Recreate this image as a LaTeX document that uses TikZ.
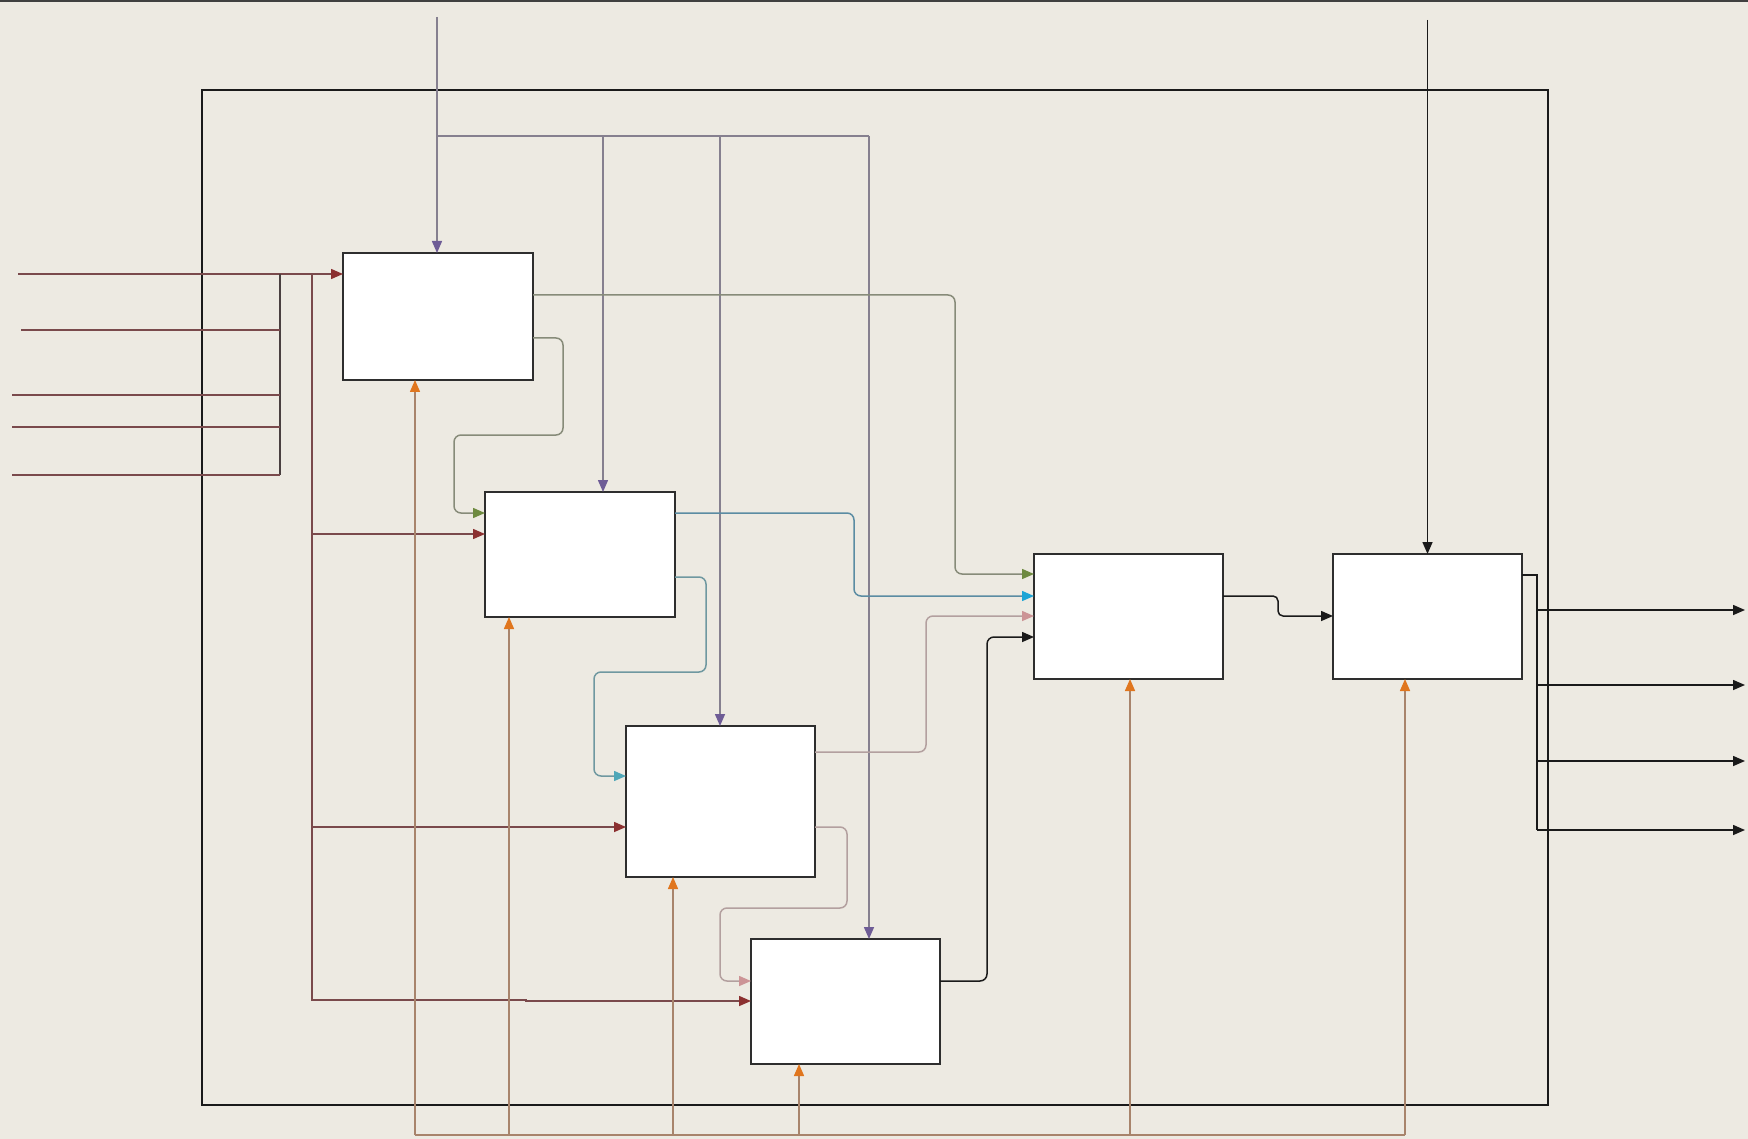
\documentclass[tikz,border=0pt]{standalone}
\usetikzlibrary{arrows.meta,calc}
\definecolor{bg}{HTML}{EDEAE2}
\definecolor{ctrlc}{HTML}{86808F}
\definecolor{ctrla}{HTML}{6E5C96}
\definecolor{inpc}{HTML}{7A4A4C}
\definecolor{inpa}{HTML}{8B3030}
\definecolor{busc}{HTML}{4A4040}
\definecolor{mechc}{HTML}{A8846C}
\definecolor{mecha}{HTML}{E0761E}
\definecolor{grnc}{HTML}{878B79}
\definecolor{grna}{HTML}{6E8A40}
\definecolor{bluc}{HTML}{5B8CA3}
\definecolor{blua}{HTML}{1DA5D6}
\definecolor{tealc}{HTML}{6F98A0}
\definecolor{teala}{HTML}{4FA7B8}
\definecolor{pnkc}{HTML}{B3A09F}
\definecolor{pnka}{HTML}{CC9496}
\definecolor{blk}{HTML}{1A1A1A}
\definecolor{boxc}{HTML}{2E2E2E}
\tikzset{
  box/.style={draw=boxc, line width=1.6pt, fill=white, inner sep=0pt, outer sep=0pt, minimum width=190pt},
  conn/.style={line width=1.5pt, rounded corners=7pt},
  tipto/.style={-{Triangle[length=12pt,width=10pt,color=#1]}},
  ctrl/.style={conn, draw=ctrlc},
  inp/.style={conn, draw=inpc},
  mech/.style={conn, draw=mechc},
  grn/.style={conn, draw=grnc},
  blu/.style={conn, draw=bluc},
  teal/.style={conn, draw=tealc},
  pnk/.style={conn, draw=pnkc},
  blkline/.style={conn, draw=blk},
}
\begin{document}
\begin{tikzpicture}[x=1pt,y=-1pt]
\useasboundingbox (0,0) rectangle (1748,1139);
\fill[bg] (0,0) rectangle (1748,1139);
\draw[line width=2pt, draw=black!75] (0,1.5) -- (1748,1.5);
% outer frame
\draw[line width=1.6pt, draw=blk] (202,90) rectangle (1548,1105);

% boxes
\node[box, minimum height=127pt] (A) at (438,316.5) {};
\node[box, minimum height=125pt] (B) at (580,554.5) {};
\node[box, minimum width=189pt, minimum height=151pt] (C) at (720.5,801.5) {};
\node[box, minimum width=189pt, minimum height=125pt] (D) at (845.5,1001.5) {};
\node[box, minimum width=189pt, minimum height=125pt] (E) at (1128.5,616.5) {};
\node[box, minimum width=189pt, minimum height=125pt] (F) at (1427.5,616.5) {};

% controls
\coordinate (c0) at (437,17);
\coordinate (cj) at (437,136);
\coordinate (cb) at (603,136);
\coordinate (cc) at (720,136);
\coordinate (cd) at (869,136);
\draw[ctrl, rounded corners=0pt] (cj) -- (cd);
\draw[ctrl, tipto=ctrla] (c0) -- (c0 |- A.north);
\draw[ctrl, tipto=ctrla] (cb) -- (cb |- B.north);
\draw[ctrl, tipto=ctrla] (cc) -- (cc |- C.north);
\draw[ctrl, tipto=ctrla] (cd) -- (cd |- D.north);

% inputs
\coordinate (i1) at (18,274);
\coordinate (i2) at (21,330);
\coordinate (i3) at (12,395);
\coordinate (i4) at (12,427);
\coordinate (i5) at (12,475);
\coordinate (bus1) at (280,274);
\coordinate (bus2) at (312,274);
\draw[inp, tipto=inpa] (i1) -- (i1 -| A.west);
\draw[conn, draw=busc, rounded corners=0pt] (bus1) -- (280,475);
\draw[inp] (i2) -- (i2 -| bus1);
\draw[inp] (i3) -- (i3 -| bus1);
\draw[inp] (i4) -- (i4 -| bus1);
\draw[inp] (i5) -- (i5 -| bus1);
\draw[inp, rounded corners=0pt] (bus2) -- (312,1001);
\draw[inp, tipto=inpa] (312,534) -- (B.west |- 0,534);
\draw[inp, tipto=inpa] (312,827) -- (C.west |- 0,827);
\draw[inp, tipto=inpa, rounded corners=0pt] (312,1000) -- (526,1000) -- (526,1001) -- (D.west |- 0,1001);

% mechanisms
\coordinate (m1) at (415,1135);
\coordinate (m2) at (509,1135);
\coordinate (m3) at (673,1135);
\coordinate (m4) at (799,1135);
\coordinate (m5) at (1130,1135);
\coordinate (m6) at (1405,1135);
\draw[mech, rounded corners=0pt] (m1) -- (m6);
\draw[mech, tipto=mecha] (m1) -- (m1 |- A.south);
\draw[mech, tipto=mecha] (m2) -- (m2 |- B.south);
\draw[mech, tipto=mecha] (m3) -- (m3 |- C.south);
\draw[mech, tipto=mecha] (m4) -- (m4 |- D.south);
\draw[mech, tipto=mecha] (m5) -- (m5 |- E.south);
\draw[mech, tipto=mecha] (m6) -- (m6 |- F.south);

% box A outputs
\draw[grn, tipto=grna] (A.east |- 0,295) -- (955,295) -- (955,574) -- (E.west |- 0,574);
\draw[grn, tipto=grna] (A.east |- 0,338) -- (563,338) -- (563,435) -- (454,435) -- (454,513) -- (B.west |- 0,513);

% box B outputs
\draw[blu, tipto=blua] (B.east |- 0,513) -- (854,513) -- (854,596) -- (E.west |- 0,596);
\draw[teal, tipto=teala] (B.east |- 0,577) -- (706,577) -- (706,672) -- (594,672) -- (594,776) -- (C.west |- 0,776);

% box C outputs
\draw[pnk, tipto=pnka] (C.east |- 0,752) -- (926,752) -- (926,616) -- (E.west |- 0,616);
\draw[pnk, tipto=pnka] (C.east |- 0,827) -- (847,827) -- (847,908) -- (720,908) -- (720,981) -- (D.west |- 0,981);

% box D output
\draw[blkline, tipto=blk] (D.east |- 0,981) -- (987,981) -- (987,637) -- (E.west |- 0,637);

% box E output
\draw[blkline, tipto=blk, rounded corners=5pt] (E.east |- 0,596) -- (1278,596) -- (1278,616) -- (F.west |- 0,616);

% box F control
\coordinate (fc) at (1427.5,20);
\draw[blkline, tipto=blk] (fc) -- (fc |- F.north);

% box F outputs
\coordinate (o1) at (1745,610);
\coordinate (o2) at (1745,685);
\coordinate (o3) at (1745,761);
\coordinate (o4) at (1745,830);
\draw[blkline, rounded corners=0pt] (F.east |- 0,575) -- (1537,575) -- (1537,830);
\draw[blkline, tipto=blk] (o1 -| 1537,0) -- (o1);
\draw[blkline, tipto=blk] (o2 -| 1537,0) -- (o2);
\draw[blkline, tipto=blk] (o3 -| 1537,0) -- (o3);
\draw[blkline, tipto=blk] (o4 -| 1537,0) -- (o4);
\end{tikzpicture}
\end{document}
